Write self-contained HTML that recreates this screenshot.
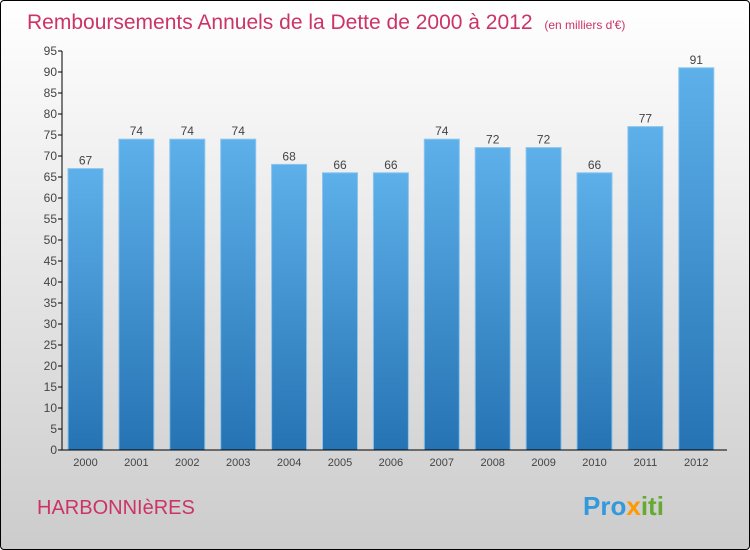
<!DOCTYPE html>
<html><head><meta charset="utf-8"><style>
body{margin:0;width:750px;height:550px;overflow:hidden;font-family:"Liberation Sans",sans-serif}
#wrap{position:absolute;left:0;top:0;width:748px;height:548px;border:1px solid #000;border-radius:4px;background:linear-gradient(#ffffff,#cccccc)}
</style></head><body>
<div id="wrap">
<svg id="chart" width="750" height="550" style="position:absolute;left:-1px;top:-1px">
<defs>
<linearGradient id="bg" x1="0" y1="0" x2="0" y2="1"><stop offset="0" stop-color="#5db0ea"/><stop offset="1" stop-color="#2673b3"/></linearGradient>
</defs>
<text x="27" y="29" font-size="21" fill="#cc3366">Remboursements Annuels de la Dette de 2000 à 2012 <tspan font-size="12" dx="6">(en milliers d'€)</tspan></text>
<text x="37" y="514" font-size="20" fill="#cc3366">HARBONNIèRES</text>
<text x="583" y="515" font-size="26" font-weight="bold"><tspan fill="#3399dd">Pro</tspan><tspan fill="#ff9900">x</tspan><tspan fill="#66aa33">iti</tspan></text>
<g id="plot"></g>
</svg>
</div>
<script>
const years=["2000","2001","2002","2003","2004","2005","2006","2007","2008","2009","2010","2011","2012"];
const values=[67,74,74,74,68,66,66,74,72,72,66,77,91];
const yTicks=[0,5,10,15,20,25,30,35,40,45,50,55,60,65,70,75,80,85,90,95];
const NS="http://www.w3.org/2000/svg";
const g=document.getElementById('plot');
const x0=62,y0=450,yTop=51,step=50.9;
const y=v=>y0-(v/95)*(y0-yTop);
const bx=i=>68+i*step;
function mk(t,a){const e=document.createElementNS(NS,t);for(const k in a)e.setAttribute(k,a[k]);g.appendChild(e);return e;}
values.forEach((v,i)=>{
 const r=mk('rect',{x:bx(i),y:y(v),width:35,height:y0-y(v),fill:'url(#bg)',stroke:'#8cc4ee','stroke-width':1});
 
 
 const t=mk('text',{x:bx(i)+17.5,y:y(v)-4,'font-size':12,fill:'#444','text-anchor':'middle'});t.textContent=v;
 
 
 const xl=mk('text',{x:bx(i)+17.5,y:466,'font-size':11,fill:'#444','text-anchor':'middle'});xl.textContent=years[i];
 
 
});
yTicks.forEach(v=>{
 mk('line',{x1:x0-4,x2:x0,y1:y(v),y2:y(v),stroke:'#000'});
 const t=mk('text',{x:x0-5,y:y(v)+4,'font-size':12,fill:'#444','text-anchor':'end'});t.textContent=v;
 
 
});
const ya=mk('line',{x1:x0,x2:x0,y1:yTop,y2:y0,stroke:'#000'});


const xa=mk('line',{x1:x0,x2:727,y1:y0,y2:y0,stroke:'#000'});


</script>
</body></html>
